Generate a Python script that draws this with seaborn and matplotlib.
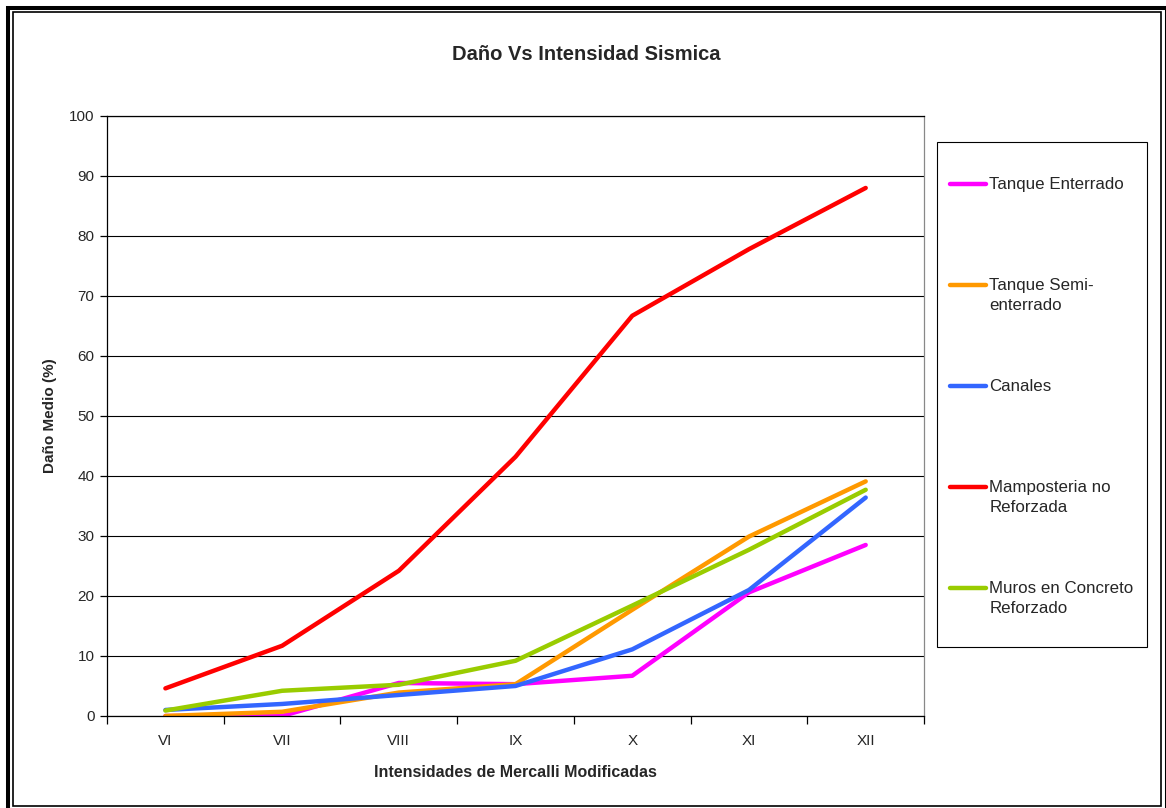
import numpy as np
import pandas as pd
import matplotlib
matplotlib.use("Agg")
import matplotlib.pyplot as plt
from matplotlib.patches import Rectangle
from matplotlib.lines import Line2D
import seaborn as sns

# Datos
intensidades = ["VI", "VII", "VIII", "IX", "X", "XI", "XII"]
tanque_enterrado = [0.0, 0.0, 5.5, 5.3, 6.7, 20.6, 28.5]
tanque_semi = [0.0, 0.7, 3.9, 5.3, 17.7, 29.9, 39.1]
canales = [1.0, 2.0, 3.5, 5.0, 11.1, 21.0, 36.4]
mamposteria = [4.6, 11.7, 24.2, 43.2, 66.7, 77.8, 88.0]
muros = [0.9, 4.2, 5.2, 9.2, 18.4, 27.7, 37.7]

series = ["Tanque Enterrado", "Tanque Semi-\nenterrado", "Canales",
          "Mamposteria no\nReforzada", "Muros en Concreto\nReforzado"]
colores = ["#FF00FF", "#FF9900", "#3366FF", "#FF0000", "#99CC00"]
valores = [tanque_enterrado, tanque_semi, canales, mamposteria, muros]

sns.set_theme(style="white")
plt.rcParams["font.family"] = ["Liberation Sans", "DejaVu Sans"]

# tabla larga para seaborn
filas = []
for nombre, vals in zip(series, valores):
    for i, v in enumerate(vals):
        filas.append({"pos": i, "dano": v, "serie": nombre})
df = pd.DataFrame(filas)

fig = plt.figure(figsize=(11.66, 8.08), dpi=100)
ax = fig.add_axes([0.0918, 0.1139, 0.7007, 0.7426])

sns.lineplot(data=df, x="pos", y="dano", hue="serie", hue_order=series,
             palette=dict(zip(series, colores)), linewidth=3.2, ax=ax,
             legend=False, solid_capstyle="round")

ax.set_xlim(-0.5, len(intensidades) - 0.5)
ax.set_ylim(0, 100)
ax.set_yticks(np.arange(0, 101, 10))
ax.yaxis.grid(True, color="black", linewidth=0.8)
ax.xaxis.grid(False)
for s in ax.spines.values():
    s.set_color("black")
    s.set_linewidth(0.9)
ax.spines["right"].set_color("#888888")

# ticks en limites de categoria, etiquetas en el centro
ax.set_xticks(np.arange(-0.5, len(intensidades), 1.0))
ax.set_xticklabels([])
ax.set_xticks(np.arange(len(intensidades)), minor=True)
ax.set_xticklabels(intensidades, minor=True)
ax.tick_params(axis="x", which="major", direction="out", length=6, width=0.9,
               color="black", bottom=True)
ax.tick_params(axis="x", which="minor", length=0, pad=13, labelsize=11)
ax.tick_params(axis="y", direction="out", length=5, width=0.9, color="black",
               left=True, labelsize=11, pad=4)

ax.set_xlabel("Intensidades de Mercalli Modificadas", fontsize=11.5,
              fontweight="bold", labelpad=12)
ax.set_ylabel("Daño Medio (%)", fontsize=11, fontweight="bold", labelpad=9)

fig.text(0.503, 0.933, "Daño Vs Intensidad Sismica", ha="center", va="center",
         fontsize=14.5, fontweight="bold")

# leyenda (marco dibujado aparte)
handles = [Line2D([0], [0], color=c, linewidth=3.2, solid_capstyle="round")
           for c in colores]
labels = [s if "\n" in s else s + "\n " for s in series]
leg = fig.legend(handles, labels, loc="upper left",
                 bbox_to_anchor=(950 / 1166, 1 - 177.0 / 808),
                 frameon=False, fontsize=12.2,
                 handlelength=2.1, handletextpad=0.22, labelspacing=3.87,
                 borderpad=0, borderaxespad=0)
for t in leg.get_texts():
    t.set_linespacing(1.45)
for h in leg.legend_handles:
    h.set_ydata(np.asarray(h.get_ydata()) + 7.5)
fig.patches.append(Rectangle((937 / 1166, 1 - 647 / 808), 210 / 1166, 505 / 808,
                             transform=fig.transFigure, fill=False,
                             edgecolor="black", linewidth=0.8))

# marco doble del grafico
fig.patches.append(Rectangle((8 / 1166, -4 / 808), 1158.5 / 1166, 804.5 / 808,
                             transform=fig.transFigure, fill=False,
                             edgecolor="black", linewidth=2.9))
fig.patches.append(Rectangle((12.5 / 1166, 2.5 / 808), 1148.5 / 1166, 794 / 808,
                             transform=fig.transFigure, fill=False,
                             edgecolor="black", linewidth=1.2))

fig.savefig("out.png", dpi=100)
